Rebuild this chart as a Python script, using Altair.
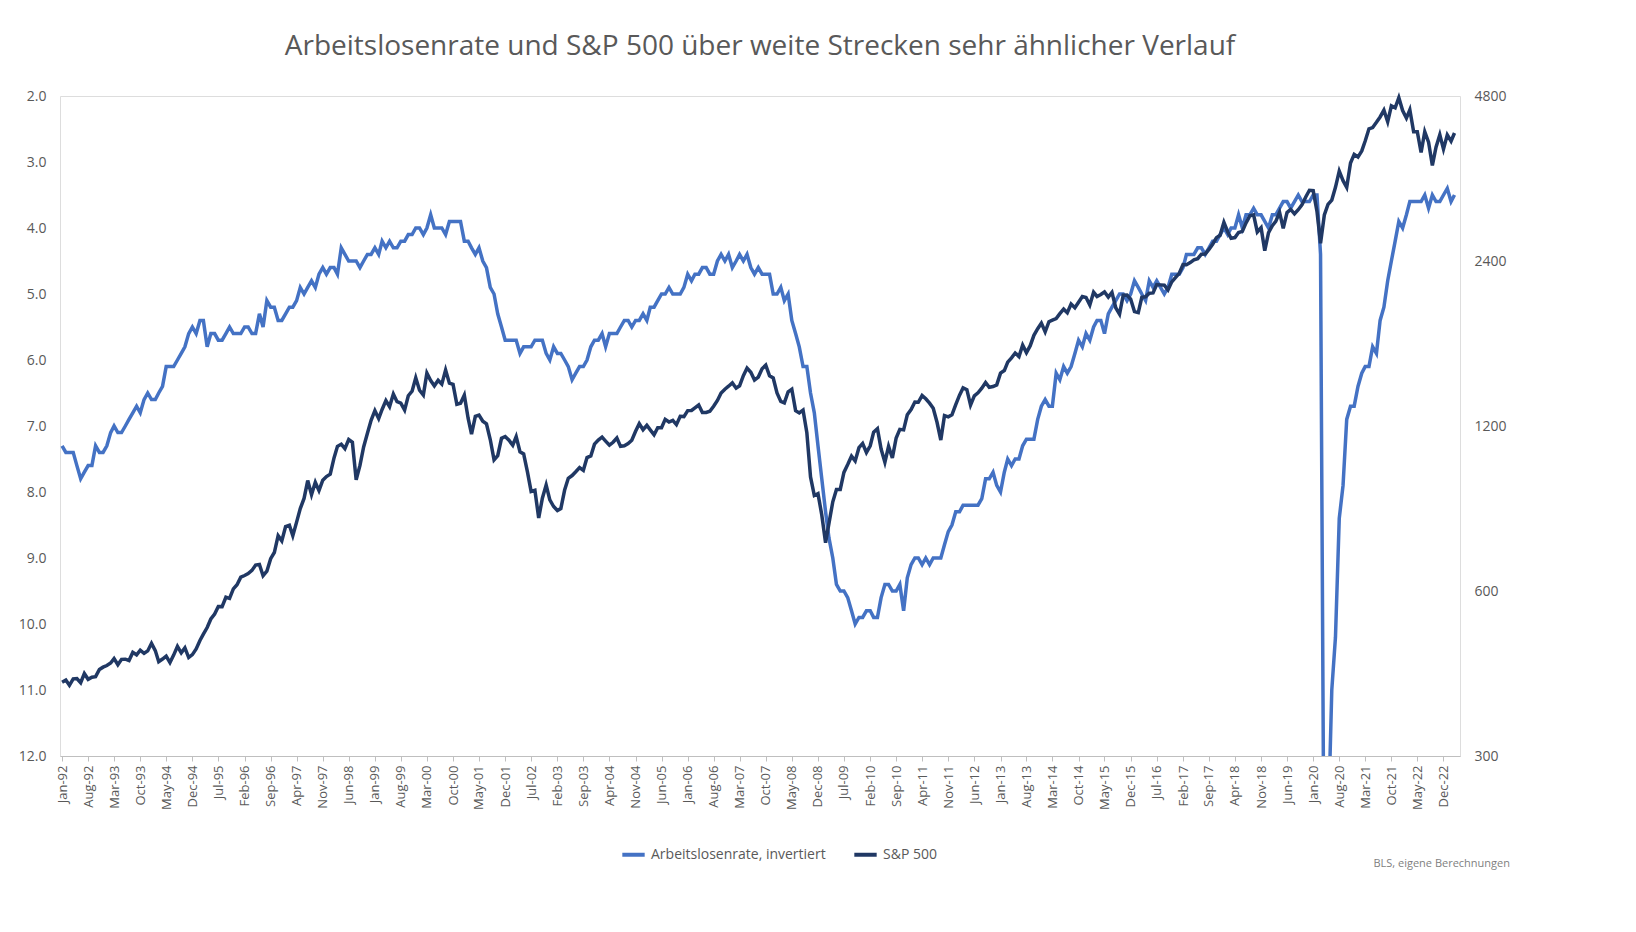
import pandas as pd
import altair as alt

# US-Arbeitslosenquote (monatlich, %), Jan 1992 - Mar 2023
unemployment = [
    7.3, 7.4, 7.4, 7.4, 7.6, 7.8, 7.7, 7.6, 7.6, 7.3, 7.4, 7.4,
    7.3, 7.1, 7.0, 7.1, 7.1, 7.0, 6.9, 6.8, 6.7, 6.8, 6.6, 6.5,
    6.6, 6.6, 6.5, 6.4, 6.1, 6.1, 6.1, 6.0, 5.9, 5.8, 5.6, 5.5,
    5.6, 5.4, 5.4, 5.8, 5.6, 5.6, 5.7, 5.7, 5.6, 5.5, 5.6, 5.6,
    5.6, 5.5, 5.5, 5.6, 5.6, 5.3, 5.5, 5.1, 5.2, 5.2, 5.4, 5.4,
    5.3, 5.2, 5.2, 5.1, 4.9, 5.0, 4.9, 4.8, 4.9, 4.7, 4.6, 4.7,
    4.6, 4.6, 4.7, 4.3, 4.4, 4.5, 4.5, 4.5, 4.6, 4.5, 4.4, 4.4,
    4.3, 4.4, 4.2, 4.3, 4.2, 4.3, 4.3, 4.2, 4.2, 4.1, 4.1, 4.0,
    4.0, 4.1, 4.0, 3.8, 4.0, 4.0, 4.0, 4.1, 3.9, 3.9, 3.9, 3.9,
    4.2, 4.2, 4.3, 4.4, 4.3, 4.5, 4.6, 4.9, 5.0, 5.3, 5.5, 5.7,
    5.7, 5.7, 5.7, 5.9, 5.8, 5.8, 5.8, 5.7, 5.7, 5.7, 5.9, 6.0,
    5.8, 5.9, 5.9, 6.0, 6.1, 6.3, 6.2, 6.1, 6.1, 6.0, 5.8, 5.7,
    5.7, 5.6, 5.8, 5.6, 5.6, 5.6, 5.5, 5.4, 5.4, 5.5, 5.4, 5.4,
    5.3, 5.4, 5.2, 5.2, 5.1, 5.0, 5.0, 4.9, 5.0, 5.0, 5.0, 4.9,
    4.7, 4.8, 4.7, 4.7, 4.6, 4.6, 4.7, 4.7, 4.5, 4.4, 4.5, 4.4,
    4.6, 4.5, 4.4, 4.5, 4.4, 4.6, 4.7, 4.6, 4.7, 4.7, 4.7, 5.0,
    5.0, 4.9, 5.1, 5.0, 5.4, 5.6, 5.8, 6.1, 6.1, 6.5, 6.8, 7.3,
    7.8, 8.3, 8.7, 9.0, 9.4, 9.5, 9.5, 9.6, 9.8, 10.0, 9.9, 9.9,
    9.8, 9.8, 9.9, 9.9, 9.6, 9.4, 9.4, 9.5, 9.5, 9.4, 9.8, 9.3,
    9.1, 9.0, 9.0, 9.1, 9.0, 9.1, 9.0, 9.0, 9.0, 8.8, 8.6, 8.5,
    8.3, 8.3, 8.2, 8.2, 8.2, 8.2, 8.2, 8.1, 7.8, 7.8, 7.7, 7.9,
    8.0, 7.7, 7.5, 7.6, 7.5, 7.5, 7.3, 7.2, 7.2, 7.2, 6.9, 6.7,
    6.6, 6.7, 6.7, 6.2, 6.3, 6.1, 6.2, 6.1, 5.9, 5.7, 5.8, 5.6,
    5.7, 5.5, 5.4, 5.4, 5.6, 5.3, 5.2, 5.1, 5.0, 5.0, 5.1, 5.0,
    4.8, 4.9, 5.0, 5.1, 4.8, 4.9, 4.8, 4.9, 5.0, 4.9, 4.7, 4.7,
    4.7, 4.6, 4.4, 4.4, 4.4, 4.3, 4.3, 4.4, 4.3, 4.2, 4.2, 4.1,
    4.0, 4.1, 4.0, 4.0, 3.8, 4.0, 3.8, 3.8, 3.7, 3.8, 3.8, 3.9,
    4.0, 3.8, 3.8, 3.7, 3.6, 3.6, 3.7, 3.6, 3.5, 3.6, 3.6, 3.6,
    3.5, 3.5, 4.4, 14.7, 13.2, 11.0, 10.2, 8.4, 7.9, 6.9, 6.7, 6.7,
    6.4, 6.2, 6.1, 6.1, 5.8, 5.9, 5.4, 5.2, 4.8, 4.5, 4.2, 3.9,
    4.0, 3.8, 3.6, 3.6, 3.6, 3.6, 3.5, 3.7, 3.5, 3.6, 3.6, 3.5,
    3.4, 3.6, 3.5,
]

# S&P 500 Monatsschluss
sp500 = [
    408.8, 412.7, 403.7, 414.9, 415.4, 408.1, 424.2, 414.0, 417.8, 418.7, 431.4, 435.7,
    438.8, 443.4, 451.7, 440.2, 450.2, 450.5, 448.1, 463.6, 458.9, 467.8, 461.8, 466.5,
    481.6, 467.1, 445.8, 450.9, 456.5, 444.3, 458.3, 475.5, 462.7, 472.4, 453.7, 459.3,
    470.4, 487.4, 500.7, 514.7, 533.4, 544.8, 562.1, 561.9, 584.4, 581.5, 605.4, 615.9,
    636.0, 640.4, 645.5, 654.2, 669.1, 670.6, 639.9, 652.0, 687.3, 705.3, 757.0, 740.7,
    786.2, 790.8, 757.1, 801.3, 848.3, 885.1, 954.3, 899.5, 947.3, 914.6, 955.4, 970.4,
    980.3, 1049.3, 1101.8, 1111.8, 1090.8, 1133.8, 1120.7, 957.3, 1017.0, 1098.7, 1163.6, 1229.2,
    1279.6, 1238.3, 1286.4, 1335.2, 1301.8, 1372.7, 1328.7, 1320.4, 1282.7, 1362.9, 1388.9, 1469.3,
    1394.5, 1366.4, 1498.6, 1452.4, 1420.6, 1454.6, 1430.8, 1517.7, 1436.5, 1429.4, 1314.9, 1320.3,
    1366.0, 1239.9, 1160.3, 1249.5, 1255.8, 1224.4, 1211.2, 1133.6, 1040.9, 1059.8, 1139.5, 1148.1,
    1130.2, 1106.7, 1147.4, 1076.9, 1067.1, 989.8, 911.6, 916.1, 815.3, 885.8, 936.3, 879.8,
    855.7, 841.2, 848.2, 916.9, 963.6, 974.5, 990.3, 1008.0, 996.0, 1050.7, 1058.2, 1111.9,
    1131.1, 1144.9, 1126.2, 1107.3, 1120.7, 1140.8, 1101.7, 1104.2, 1114.6, 1130.2, 1173.8, 1211.9,
    1181.3, 1203.6, 1180.6, 1156.9, 1191.5, 1191.3, 1234.2, 1220.3, 1228.8, 1207.0, 1249.5, 1248.3,
    1280.1, 1280.7, 1294.9, 1310.6, 1270.1, 1270.2, 1276.7, 1303.8, 1335.9, 1377.9, 1400.6, 1418.3,
    1438.2, 1406.8, 1420.9, 1482.4, 1530.6, 1503.4, 1455.3, 1474.0, 1526.8, 1549.4, 1481.1, 1468.4,
    1378.6, 1330.6, 1322.7, 1385.6, 1400.4, 1280.0, 1267.4, 1282.8, 1166.4, 968.8, 896.2, 903.3,
    825.9, 735.1, 797.9, 872.8, 919.1, 919.3, 987.5, 1020.6, 1057.1, 1036.2, 1095.6, 1115.1,
    1073.9, 1104.5, 1169.4, 1186.7, 1089.4, 1030.7, 1101.6, 1049.3, 1141.2, 1183.3, 1180.6, 1257.6,
    1286.1, 1327.2, 1325.8, 1363.6, 1345.2, 1320.6, 1292.3, 1218.9, 1131.4, 1253.3, 1247.0, 1257.6,
    1312.4, 1365.7, 1408.5, 1397.9, 1310.3, 1362.2, 1379.3, 1406.6, 1440.7, 1412.2, 1416.2, 1426.2,
    1498.1, 1514.7, 1569.2, 1597.6, 1630.7, 1606.3, 1685.7, 1633.0, 1681.6, 1756.5, 1805.8, 1848.4,
    1782.6, 1859.5, 1872.3, 1883.9, 1923.6, 1960.2, 1930.7, 2003.4, 1972.3, 2018.1, 2067.6, 2058.9,
    1995.0, 2104.5, 2067.9, 2085.5, 2107.4, 2063.1, 2103.8, 1972.2, 1920.0, 2079.4, 2080.4, 2043.9,
    1940.2, 1932.2, 2059.7, 2065.3, 2096.9, 2098.9, 2173.6, 2171.0, 2168.3, 2126.2, 2198.8, 2238.8,
    2278.9, 2363.6, 2362.7, 2384.2, 2411.8, 2423.4, 2470.3, 2471.7, 2519.4, 2575.3, 2647.6, 2673.6,
    2823.8, 2713.8, 2640.9, 2648.1, 2705.3, 2718.4, 2816.3, 2901.5, 2914.0, 2711.7, 2760.2, 2506.9,
    2704.1, 2784.5, 2834.4, 2945.8, 2752.1, 2941.8, 2980.4, 2926.5, 2976.7, 3037.6, 3141.0, 3230.8,
    3225.5, 2954.2, 2584.6, 2912.4, 3044.3, 3100.3, 3271.1, 3500.3, 3363.0, 3270.0, 3621.6, 3756.1,
    3714.2, 3811.2, 3972.9, 4181.2, 4204.1, 4297.5, 4395.3, 4522.7, 4307.5, 4605.4, 4567.0, 4766.2,
    4515.6, 4373.9, 4530.4, 4131.9, 4132.2, 3785.4, 4130.3, 3955.0, 3585.6, 3872.0, 4080.1, 3839.5,
    4076.6, 3970.2, 4109.3,
]

dates = pd.date_range("1992-01-01", periods=len(unemployment), freq="MS")
df = pd.DataFrame({"date": dates, "ur": unemployment, "sp": sp500})
df["s1"] = "Arbeitslosenrate, invertiert"
df["s2"] = "S&P 500"

tick_dates = [alt.DateTime(year=d.year, month=d.month, date=1) for d in dates[::7]]

color_scale = alt.Scale(domain=["Arbeitslosenrate, invertiert", "S&P 500"],
                        range=["#4472C4", "#203864"])

W, H = 1400, 660

x = alt.X("date:T", title=None,
          scale=alt.Scale(domain=[alt.DateTime(year=1991, month=12, date=15),
                                  alt.DateTime(year=2023, month=4, date=15)]),
          axis=alt.Axis(values=tick_dates, format="%b-%y", labelAngle=-90,
                        labelColor="#595959", labelFontSize=13, grid=False,
                        domainColor="#BFBFBF", tickColor="#BFBFBF", labelPadding=4))

legend = alt.Legend(orient="none", legendX=W / 2 - 140, legendY=H + 85,
                    direction="horizontal", title=None, labelLimit=300,
                    symbolType="stroke", symbolStrokeWidth=4, symbolSize=500,
                    labelFontSize=14, labelColor="#595959", columnPadding=20)

ur_line = alt.Chart(df).mark_line(strokeWidth=3.5, clip=True).encode(
    x=x,
    y=alt.Y("ur:Q", title=None,
            scale=alt.Scale(domain=[2, 12], reverse=True, nice=False),
            axis=alt.Axis(values=list(range(2, 13)), format=".1f", grid=False,
                          domain=False, ticks=False, labelColor="#595959",
                          labelFontSize=14, labelPadding=14)),
    color=alt.Color("s1:N", scale=color_scale, legend=legend),
)

sp_line = alt.Chart(df).mark_line(strokeWidth=3.5).encode(
    x=x,
    y=alt.Y("sp:Q", title=None,
            scale=alt.Scale(type="log", domain=[300, 4800], nice=False),
            axis=alt.Axis(orient="right", values=[300, 600, 1200, 2400, 4800],
                          format="d", grid=False, domain=False, ticks=False,
                          labelColor="#595959", labelFontSize=14, labelPadding=14)),
    color=alt.Color("s2:N", scale=color_scale, legend=legend),
)

note = alt.Chart(pd.DataFrame({"t": ["BLS, eigene Berechnungen"]})).mark_text(
    align="right", fontSize=11, color="#7F7F7F"
).encode(x=alt.value(W + 50), y=alt.value(H + 108), text="t:N")

chart = alt.layer(ur_line, sp_line, note).resolve_scale(y="independent").properties(
    width=W, height=H,
    padding={"top": 25, "left": 10, "right": 10, "bottom": 10},
    title=alt.TitleParams("Arbeitslosenrate und S&P 500 über weite Strecken sehr ähnlicher Verlauf",
                          fontSize=28, fontWeight="normal", color="#595959", offset=28),
).configure_view(stroke=None).configure(font="Open Sans")

chart.save("out.html", embed_options={"renderer": "svg", "actions": False})
